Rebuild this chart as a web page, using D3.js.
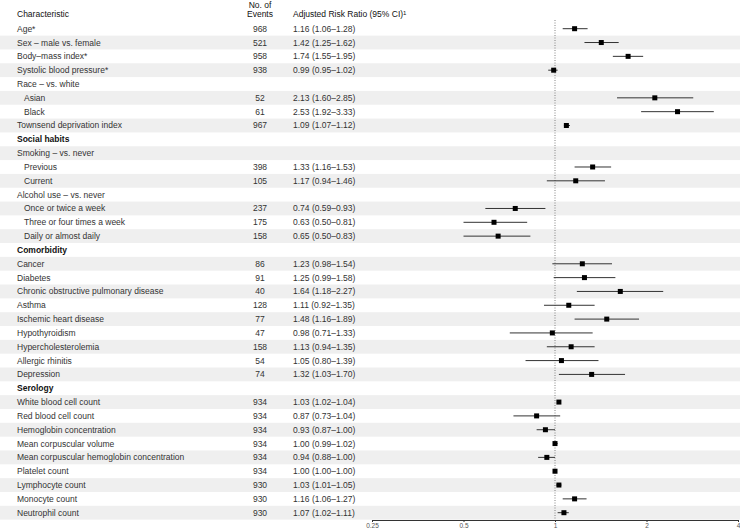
<!DOCTYPE html>
<html><head><meta charset="utf-8">
<script src="https://cdn.jsdelivr.net/npm/d3@7"></script>
<style>body{margin:0;background:#fff}svg{display:block}text{font-family:"Liberation Sans",Arial,Helvetica,sans-serif}</style>
</head><body><div id="chart"></div>
<script>
const labels = ["Age*","Sex – male vs. female","Body–mass index*","Systolic blood pressure*","Race – vs. white","Asian","Black","Townsend deprivation index","Social habits","Smoking – vs. never","Previous","Current","Alcohol use – vs. never","Once or twice a week","Three or four times a week","Daily or almost daily","Comorbidity","Cancer","Diabetes","Chronic obstructive pulmonary disease","Asthma","Ischemic heart disease","Hypothyroidism","Hypercholesterolemia","Allergic rhinitis","Depression","Serology","White blood cell count","Red blood cell count","Hemoglobin concentration","Mean corpuscular volume","Mean corpuscular hemoglobin concentration","Platelet count","Lymphocyte count","Monocyte count","Neutrophil count"];
const rowTypes = ["item","item","item","item","group","sub","sub","item","section","group","sub","sub","group","sub","sub","sub","section","item","item","item","item","item","item","item","item","item","section","item","item","item","item","item","item","item","item","item"];
const events = [968,521,958,938,null,52,61,967,null,null,398,105,null,237,175,158,null,86,91,40,128,77,47,158,54,74,null,934,934,934,934,934,934,930,930,930];
const estimate = [1.16,1.42,1.74,0.99,null,2.13,2.53,1.09,null,null,1.33,1.17,null,0.74,0.63,0.65,null,1.23,1.25,1.64,1.11,1.48,0.98,1.13,1.05,1.32,null,1.03,0.87,0.93,1.00,0.94,1.00,1.03,1.16,1.07];
const lower = [1.06,1.25,1.55,0.95,null,1.60,1.92,1.07,null,null,1.16,0.94,null,0.59,0.50,0.50,null,0.98,0.99,1.18,0.92,1.16,0.71,0.94,0.80,1.03,null,1.02,0.73,0.87,0.99,0.88,1.00,1.01,1.06,1.02];
const upper = [1.28,1.62,1.95,1.02,null,2.85,3.33,1.12,null,null,1.53,1.46,null,0.93,0.81,0.83,null,1.54,1.58,2.27,1.35,1.89,1.33,1.35,1.39,1.70,null,1.04,1.04,1.00,1.02,1.00,1.00,1.05,1.27,1.11];
const tickValues = [0.25,0.5,1,2,4];
const tickLabels = ["0.25","0.5","1","2","4"];

const W = 740, H = 530;
const svg = d3.select("#chart").append("svg").attr("width",W).attr("height",H);
const rows = labels.map((l,i)=>({label:l,type:rowTypes[i],n:events[i],est:estimate[i],lo:lower[i],hi:upper[i],i}));
const y = d3.scaleLinear().domain([0,rows.length-1]).range([28.7,512.7]);
const rowH = (y(1)-y(0));
const x = d3.scaleLog().base(2).domain([0.25,4]).range([372,738]);

// stripes
svg.append("g").selectAll("rect").data(rows.filter(d=>d.i%2===1)).join("rect")
  .attr("x",0).attr("width",W).attr("y",d=>y(d.i)-rowH/2).attr("height",rowH).attr("fill","#efefef");

// headers
const hdr = svg.append("g").attr("fill","#111").attr("font-size",8.5);
hdr.append("text").attr("x",17).attr("y",14.3).attr("dy","0.35em").text("Characteristic");
hdr.append("text").attr("x",260).attr("y",4.6).attr("dy","0.35em").attr("text-anchor","middle").text("No. of");
hdr.append("text").attr("x",260).attr("y",14.3).attr("dy","0.35em").attr("text-anchor","middle").text("Events");
const ht = hdr.append("text").attr("x",293).attr("y",14.3).attr("dy","0.35em").text("Adjusted Risk Ratio (95% CI)");
ht.append("tspan").attr("font-size",6).attr("dy","-0.45em").text("1");

// row labels
const fmt = d3.format(".2f");
const g = svg.append("g").attr("font-size",8.5);
g.selectAll("text.lab").data(rows).join("text").attr("class","lab")
  .attr("x",d=>d.type==="sub"?24:17).attr("y",d=>y(d.i)).attr("dy","0.35em")
  .attr("fill",d=>d.type==="section"?"#111":"#333")
  .attr("font-weight",d=>d.type==="section"?"bold":"normal")
  .text(d=>d.label);
g.selectAll("text.n").data(rows.filter(d=>d.n!=null)).join("text").attr("class","n")
  .attr("x",260).attr("text-anchor","middle").attr("y",d=>y(d.i)).attr("dy","0.35em").attr("fill","#333")
  .text(d=>d.n);
g.selectAll("text.ci").data(rows.filter(d=>d.est!=null)).join("text").attr("class","ci")
  .attr("x",293).attr("y",d=>y(d.i)).attr("dy","0.35em").attr("fill","#333")
  .text(d=>`${fmt(d.est)} (${fmt(d.lo)}–${fmt(d.hi)})`);

// reference line
svg.append("line").attr("x1",x(1)).attr("x2",x(1)).attr("y1",20).attr("y2",520)
  .attr("stroke","#666").attr("stroke-width",0.8).attr("stroke-dasharray","1,1.5");

// CI lines and points
const pts = rows.filter(d=>d.est!=null);
svg.append("g").selectAll("line").data(pts).join("line")
  .attr("x1",d=>x(d.lo)).attr("x2",d=>x(d.hi)).attr("y1",d=>y(d.i)).attr("y2",d=>y(d.i))
  .attr("stroke","#333").attr("stroke-width",1);
const s = 5;
svg.append("g").selectAll("rect").data(pts).join("rect")
  .attr("x",d=>x(d.est)-s/2).attr("y",d=>y(d.i)-s/2).attr("width",s).attr("height",s).attr("fill","#000");

// axis
const ax = svg.append("g").attr("transform","translate(0,520)")
  .call(d3.axisBottom(x).tickValues(tickValues).tickFormat((d,i)=>tickLabels[i]).tickSize(2).tickPadding(1));
ax.select(".domain").attr("stroke","#333");
ax.selectAll(".tick line").attr("stroke","#333");
ax.selectAll(".tick text").attr("font-size",6.5).attr("fill","#555").attr("font-family","Liberation Sans, Arial, sans-serif");
</script></body></html>
